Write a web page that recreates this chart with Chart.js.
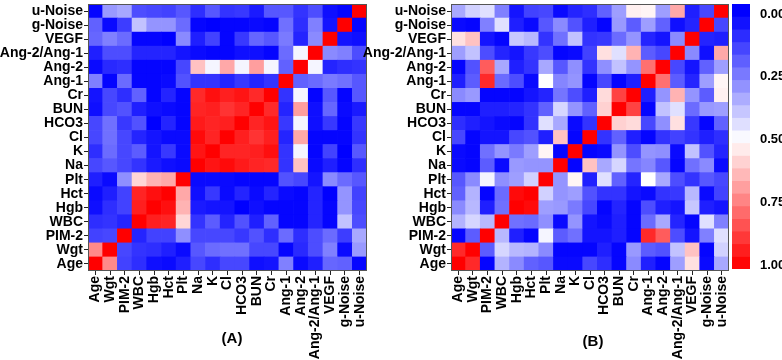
<!DOCTYPE html>
<html>
<head>
<meta charset="utf-8">
<script src="https://cdn.jsdelivr.net/npm/chart.js@4.4.0/dist/chart.umd.min.js"></script>
<style>
  html, body { margin: 0; padding: 0; background: #fff; }
  #wrap { position: relative; width: 782px; height: 360px; overflow: hidden; }
  #wrap canvas { position: absolute; top: 0; }
  .tag { position: absolute; font: bold 15px "Liberation Sans", Arial, sans-serif; color: #000; transform: translate(-50%, -50%); }
</style>
</head>
<body>
<div id="wrap">
  <canvas id="heatA" width="372" height="360" style="left:0"></canvas>
  <canvas id="heatB" width="369" height="360" style="left:362px"></canvas>
  <canvas id="cbar" width="51" height="360" style="left:731px"></canvas>
  <div class="tag" style="left:232px;top:337px">(A)</div>
  <div class="tag" style="left:593px;top:340px">(B)</div>
</div>
<script>
// Variables, bottom-to-top on y and left-to-right on x.
const labels = ["Age", "Wgt", "PIM-2", "WBC", "Hgb", "Hct", "Plt", "Na", "K", "Cl",
  "HCO3", "BUN", "Cr", "Ang-1", "Ang-2", "Ang-2/Ang-1", "VEGF", "g-Noise", "u-Noise"];

// Lower triangles (row i holds columns 0..i); the matrices are symmetric.
const lowerA = [
  [1],
  [0.73, 1],
  [0.13, 0.14, 1],
  [0.09, 0.10, 0.07, 1],
  [0.03, 0.09, 0.13, 0.94, 1],
  [0.02, 0.06, 0.13, 0.93, 0.97, 1],
  [0.06, 0.02, 0.28, 0.58, 0.65, 0.67, 1],
  [0.14, 0.17, 0.14, 0.10, 0.05, 0.03, 0.02, 1],
  [0.09, 0.21, 0.14, 0.18, 0.04, 0.11, 0.02, 0.96, 1],
  [0.14, 0.22, 0.14, 0.07, 0.04, 0.02, 0.02, 0.98, 0.93, 1],
  [0.14, 0.22, 0.11, 0.16, 0.00, 0.07, 0.01, 0.95, 0.93, 0.94, 1],
  [0.03, 0.14, 0.16, 0.06, 0.03, 0.02, 0.01, 0.93, 0.94, 0.90, 0.93, 1],
  [0.04, 0.14, 0.09, 0.19, 0.01, 0.07, 0.01, 0.92, 0.97, 0.94, 0.96, 0.92, 1],
  [0.25, 0.01, 0.21, 0.01, 0.01, 0.02, 0.16, 0.10, 0.10, 0.07, 0.11, 0.07, 0.10, 1],
  [0.02, 0.08, 0.09, 0.01, 0.01, 0.01, 0.14, 0.62, 0.48, 0.67, 0.48, 0.69, 0.48, 0.19, 1],
  [0.06, 0.15, 0.15, 0.07, 0.07, 0.07, 0.04, 0.02, 0.01, 0.01, 0.03, 0.03, 0.01, 0.21, 0.48, 1],
  [0.20, 0.25, 0.21, 0.01, 0.01, 0.00, 0.27, 0.06, 0.13, 0.01, 0.11, 0.20, 0.17, 0.24, 0.07, 0.27, 1],
  [0.19, 0.02, 0.12, 0.38, 0.29, 0.29, 0.21, 0.01, 0.00, 0.01, 0.01, 0.02, 0.01, 0.22, 0.09, 0.25, 0.04, 1],
  [0.01, 0.30, 0.33, 0.15, 0.14, 0.13, 0.17, 0.09, 0.17, 0.10, 0.11, 0.05, 0.17, 0.17, 0.10, 0.15, 0.03, 0.01, 1],
];

const lowerB = [
  [1],
  [0.92, 1],
  [0.01, 0.18, 1],
  [0.35, 0.42, 0.36, 1],
  [0.27, 0.36, 0.06, 0.22, 1],
  [0.19, 0.35, 0.01, 0.21, 0.98, 1],
  [0.17, 0.27, 0.48, 0.28, 0.31, 0.41, 1],
  [0.02, 0.01, 0.18, 0.02, 0.30, 0.29, 0.29, 1],
  [0.02, 0.01, 0.22, 0.29, 0.24, 0.31, 0.52, 0.01, 1],
  [0.14, 0.01, 0.04, 0.04, 0.14, 0.16, 0.06, 0.62, 0.01, 1],
  [0.09, 0.06, 0.04, 0.02, 0.01, 0.10, 0.44, 0.33, 0.02, 0.10, 1],
  [0.01, 0.01, 0.06, 0.06, 0.07, 0.10, 0.19, 0.42, 0.29, 0.19, 0.59, 1],
  [0.27, 0.30, 0.01, 0.01, 0.01, 0.04, 0.07, 0.23, 0.15, 0.06, 0.57, 0.87, 1],
  [0.06, 0.18, 0.92, 0.21, 0.15, 0.02, 0.50, 0.26, 0.29, 0.01, 0.14, 0.01, 0.06, 1],
  [0.01, 0.16, 0.82, 0.33, 0.06, 0.10, 0.33, 0.17, 0.28, 0.10, 0.28, 0.38, 0.29, 0.78, 1],
  [0.31, 0.38, 0.15, 0.07, 0.04, 0.11, 0.15, 0.01, 0.02, 0.13, 0.56, 0.44, 0.65, 0.18, 0.14, 1],
  [0.56, 0.62, 0.04, 0.01, 0.39, 0.36, 0.10, 0.22, 0.38, 0.10, 0.11, 0.21, 0.29, 0.07, 0.04, 0.27, 1],
  [0.02, 0.01, 0.25, 0.44, 0.06, 0.02, 0.17, 0.27, 0.16, 0.06, 0.01, 0.30, 0.18, 0.31, 0.19, 0.03, 0.07, 1],
  [0.33, 0.41, 0.44, 0.25, 0.04, 0.13, 0.14, 0.02, 0.07, 0.09, 0.19, 0.31, 0.53, 0.52, 0.31, 0.67, 0.06, 0.14, 1],
];

const cbarTicks = [0, 0.25, 0.5, 0.75, 1];

const font = { family: '"Liberation Sans", Arial, sans-serif', size: 14, weight: "bold" };
const cbFont = { family: '"Liberation Sans", Arial, sans-serif', size: 13, weight: "bold" };

function full(lower) {
  const n = lower.length;
  const m = [];
  for (let i = 0; i < n; i++) {
    m.push([]);
    for (let j = 0; j < n; j++) m[i].push(j <= i ? lower[i][j] : lower[j][i]);
  }
  return m;
}

// blue (0) -> white (0.5) -> red (1)
function colorOf(t) {
  t = Math.max(0, Math.min(1, t));
  if (t < 0.5) {
    const g = Math.round(510 * t);
    return `rgb(${g},${g},255)`;
  }
  const g = Math.round(510 * (1 - t));
  return `rgb(255,${g},${g})`;
}

// scales reserve half a label of room at each end by default; the cells
// here run edge to edge, so drop that.
function noEndPadding(s) {
  s.paddingTop = 0;
  s.paddingBottom = 0;
  s.paddingLeft = 0;
  s.paddingRight = 0;
}

const frame = {
  id: "frame",
  afterDatasetsDraw(chart) {
    const a = chart.chartArea, ctx = chart.ctx;
    ctx.save();
    ctx.strokeStyle = "#555";
    ctx.lineWidth = 1;
    ctx.strokeRect(a.left + 0.5, a.top + 0.5, a.width - 1, a.height - 1);
    ctx.restore();
  },
};

function heatmap(id, lower, yWidth, padRight) {
  const m = full(lower);
  const datasets = labels.map((name, r) => ({
    label: name,
    data: labels.map(() => 1),
    backgroundColor: labels.map((_, c) => colorOf(m[r][c])),
    borderWidth: 0,
    barPercentage: 1,
    categoryPercentage: 1,
  }));
  new Chart(document.getElementById(id), {
    type: "bar",
    data: { labels, datasets },
    options: {
      responsive: false,
      animation: false,
      layout: { padding: { top: 4, right: padRight, left: 0, bottom: 0 } },
      plugins: { legend: { display: false }, tooltip: { enabled: false } },
      scales: {
        x: {
          stacked: true,
          grid: { offset: false, drawOnChartArea: false, tickLength: 4, color: "#222" },
          border: { display: false },
          ticks: { autoSkip: false, minRotation: 90, maxRotation: 90, padding: 1, color: "#000", font },
          afterFit: (s) => { s.height = 89; noEndPadding(s); },
        },
        y: {
          stacked: true,
          min: 0,
          max: labels.length,
          afterBuildTicks: (s) => { s.ticks = labels.map((_, i) => ({ value: i + 0.5 })); },
          grid: { drawOnChartArea: false, tickLength: 4, color: "#222" },
          border: { display: false },
          ticks: { autoSkip: false, padding: 1, color: "#000", font, callback: (v) => labels[Math.floor(v)] },
          afterFit: (s) => { s.width = yWidth; noEndPadding(s); },
        },
      },
    },
    plugins: [frame],
  });
}

heatmap("heatA", lowerA, 88, 5);
heatmap("heatB", lowerB, 89, 2);

// colour bar: bands along a reversed 0..1 axis
const cbMin = -0.04, cbMax = 1.016, bands = 21;
const step = (cbMax - cbMin) / bands;
const bandSets = [];
for (let k = 0; k < bands; k++) {
  const lo = cbMin + k * step;
  bandSets.push({
    data: [[lo, lo + step]],
    backgroundColor: colorOf(lo + step / 2),
    borderWidth: 0,
    grouped: false,
    barPercentage: 1,
    categoryPercentage: 1,
  });
}
new Chart(document.getElementById("cbar"), {
  type: "bar",
  data: { labels: [""], datasets: bandSets },
  options: {
    responsive: false,
    animation: false,
    layout: { padding: { top: 4, bottom: 91, left: 1, right: 0 } },
    plugins: { legend: { display: false }, tooltip: { enabled: false } },
    scales: {
      x: { display: false },
      y: {
        position: "right",
        reverse: true,
        min: cbMin,
        max: cbMax,
        afterBuildTicks: (s) => { s.ticks = cbarTicks.map((v) => ({ value: v })); },
        grid: { display: false },
        border: { display: false },
        ticks: { padding: 2, color: "#000", font: cbFont, callback: (v) => v.toFixed(2) },
        afterFit: (s) => { s.width = 32; noEndPadding(s); },
      },
    },
  },
});
</script>
</body>
</html>
